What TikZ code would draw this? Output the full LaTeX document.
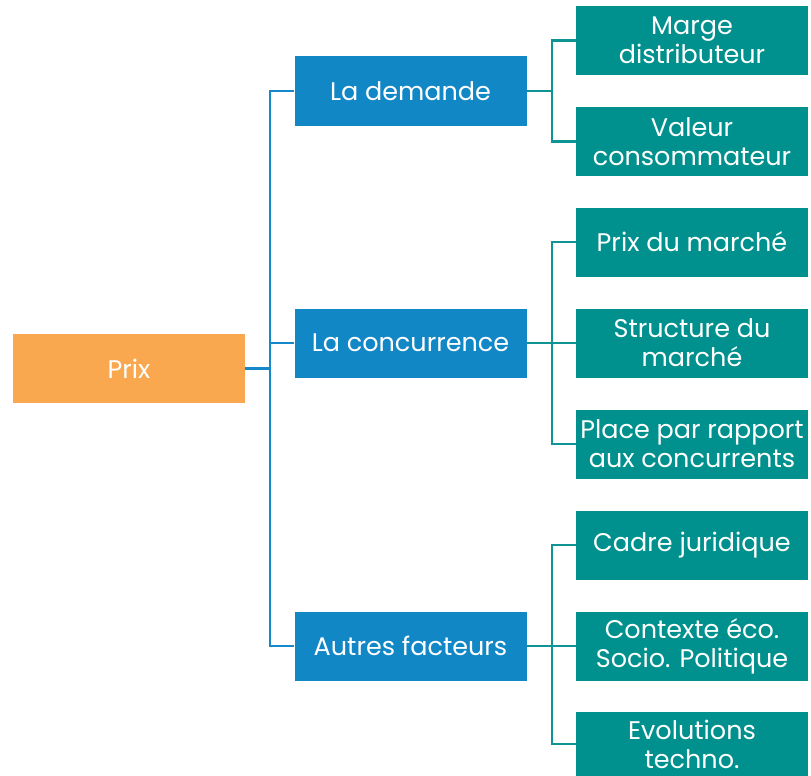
\documentclass[tikz,border=0pt]{standalone}
\usepackage{fontspec}
\setmainfont{Poppins}
\definecolor{orangebox}{HTML}{F9A84F}
\definecolor{bluebox}{HTML}{1287C6}
\definecolor{tealbox}{HTML}{00918E}
\definecolor{blueline}{HTML}{1488C8}
\definecolor{tealline}{HTML}{0E9494}
\begin{document}
\begin{tikzpicture}[x=1pt,y=-1pt,
  box/.style={minimum width=232pt,minimum height=69pt,inner sep=0pt,text=white,align=center,
    font=\fontsize{25.5}{29}\selectfont},
  rootbox/.style={box,fill=orangebox},
  midbox/.style={box,fill=bluebox},
  leafbox/.style={box,fill=tealbox},
  bline/.style={draw=blueline,line width=2.2pt},
  tline/.style={draw=tealline,line width=2.2pt}]
\useasboundingbox (0,0) rectangle (811,776);
\node[rootbox] (prix) at (129,368.5) {Prix};
\node[midbox] (dem) at (410.5,91) {La demande};
\node[midbox] (conc) at (410.5,343) {La concurrence};
\node[midbox] (autres) at (410.5,646) {Autres facteurs};
\node[leafbox] (l1) at (692,40.5) {Marge\\distributeur};
\node[leafbox] (l2) at (692,141.5) {Valeur\\consommateur};
\node[leafbox] (l3) at (692,242) {Prix du marché};
\node[leafbox] (l4) at (692,343) {Structure du\\marché};
\node[leafbox] (l5) at (692,444) {Place par rapport\\aux concurrents};
\node[leafbox] (l6) at (692,545) {Cadre juridique};
\node[leafbox] (l7) at (692,646) {Contexte éco.\\Socio. Politique};
\node[leafbox,minimum height=64pt] (l8) at (692,744) {Evolutions\\techno.};
% root connectors
\coordinate (j0) at (270,368.5);
\draw[bline] (prix.east) -- (j0);
\draw[bline] (j0) |- (dem.west);
\draw[bline] (j0) |- (conc.west);
\draw[bline] (j0) |- (autres.west);
% group 1
\coordinate (j1) at (552,91);
\draw[tline] (dem.east) -- (j1);
\draw[tline] (j1) |- (l1.west);
\draw[tline] (j1) |- (l2.west);
% group 2
\coordinate (j2) at (552,343);
\draw[tline] (conc.east) -- (j2);
\draw[tline] (j2) |- (l3.west);
\draw[tline] (j2) |- (l4.west);
\draw[tline] (j2) |- (l5.west);
% group 3
\coordinate (j3) at (552,646);
\draw[tline] (autres.east) -- (j3);
\draw[tline] (j3) |- (l6.west);
\draw[tline] (j3) |- (l7.west);
\draw[tline] (j3) |- (l8.west);
\end{tikzpicture}
\end{document}
